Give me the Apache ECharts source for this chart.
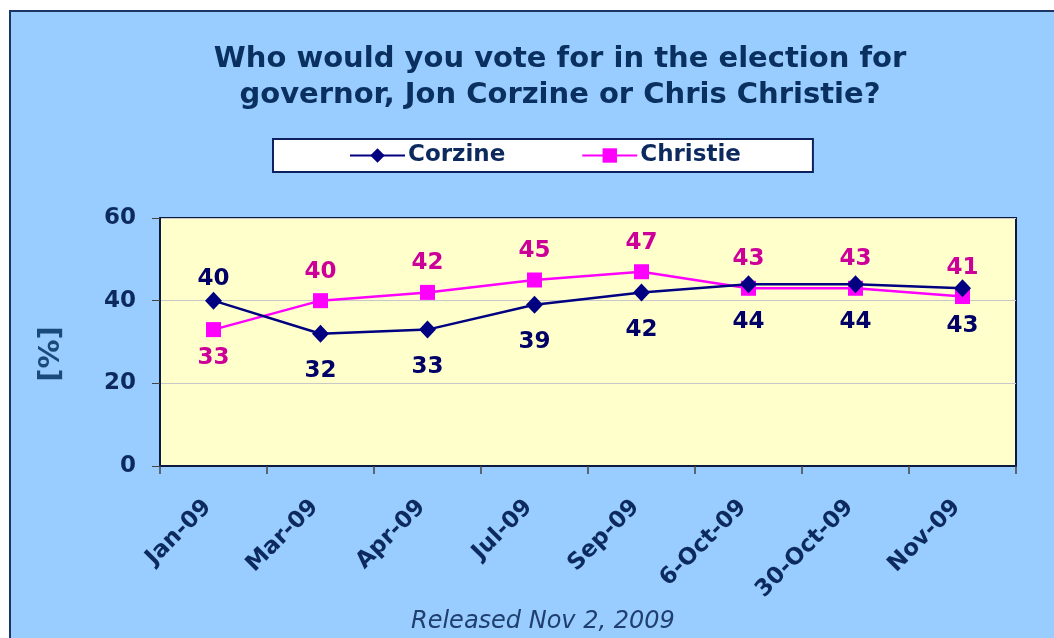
<!DOCTYPE html>
<html><head><meta charset="utf-8">
<script src="https://cdn.jsdelivr.net/npm/echarts@6/dist/echarts.min.js"></script>
<style>html,body{margin:0;padding:0;background:#fff}#c{width:1054px;height:638px}</style>
</head><body><div id="c"></div>
<script>
const categories = ['Jan-09','Mar-09','Apr-09','Jul-09','Sep-09','6-Oct-09','30-Oct-09','Nov-09'];
const corzine = [40,32,33,39,42,44,44,43];
const christie = [33,40,42,45,47,43,43,41];
const yTicks = [0,20,40,60];

const chart = echarts.init(document.getElementById('c'));
const F = 'DejaVu Sans, Verdana, sans-serif';
const dl = (color, pos, dist) => ({show:true,fontFamily:F,fontSize:23,fontWeight:'bold',color:color,distance:dist,position:pos});
chart.setOption({
  backgroundColor:'#ffffff',
  animation:false,
  graphic:[
    {type:'rect',z:-10,silent:true,shape:{x:10,y:11,width:1060,height:640},
      style:{fill:'#99ccff',stroke:'#1a3566',lineWidth:2}},
    {type:'text',left:411,top:610,style:{text:'Released Nov 2, 2009',
      font:'italic 24px '+F,fill:'#1f3f6f'}},
    {type:'text',x:51,y:354,rotation:Math.PI/2,style:{text:'[%]',align:'center',verticalAlign:'middle',
      font:'bold 29px '+F,fill:'#1a4a7a'}}
  ],
  title:{text:'Who would you vote for in the election for\ngovernor, Jon Corzine or Chris Christie?',
    left:555,textAlign:'center',top:36,
    textStyle:{fontFamily:F,fontSize:29,fontWeight:'bold',color:'#0a3060',lineHeight:36}},
  legend:{left:273,top:139,backgroundColor:'#ffffff',borderColor:'#0d2060',borderWidth:2,borderRadius:0,
    padding:[5,72,5,76],itemGap:76,itemWidth:55,itemHeight:18,
    textStyle:{fontFamily:F,fontSize:23,fontWeight:'bold',color:'#0d2a5e',padding:[0,0,0,-2]},
    data:['Corzine','Christie']},
  grid:{left:160,right:38,top:218,bottom:172,show:true,backgroundColor:'#ffffcc',borderColor:'#0d1a40',borderWidth:2},
  xAxis:{type:'category',data:categories,boundaryGap:true,
    axisLine:{lineStyle:{color:'#0d1a40',width:2}},
    axisTick:{show:true,length:8,lineStyle:{color:'#444',width:1.5}},
    axisLabel:{rotate:45,margin:32,padding:[0,8,0,0],fontFamily:F,fontSize:23,fontWeight:'bold',color:'#0d2a5e'}},
  yAxis:{type:'value',min:0,max:60,interval:20,
    axisLine:{show:true,lineStyle:{color:'#0d1a40',width:2}},
    axisTick:{show:true,length:8,lineStyle:{color:'#444'}},
    splitLine:{show:true,lineStyle:{color:'#c8c8c8',width:1}},
    axisLabel:{margin:24,fontFamily:F,fontSize:23,fontWeight:'bold',color:'#0d2a5e',
      formatter:v=>yTicks.includes(v)?String(v):''}},
  series:[
    {name:'Christie',type:'line',symbol:'rect',symbolSize:15,z:2,
      data:christie.map((v,i)=>({value:v,label:i===0?dl('#cc0099','bottom',9):dl('#cc0099','top',10)})),
      itemStyle:{color:'#ff00ff'},lineStyle:{color:'#ff00ff',width:2.5}},
    {name:'Corzine',type:'line',symbol:'diamond',symbolSize:[17,18],z:3,
      data:corzine.map((v,i)=>({value:v,label:i===0?dl('#000066','top',1):dl('#000066','bottom',17)})),
      itemStyle:{color:'#000080'},lineStyle:{color:'#000080',width:2.5}}
  ]
});
</script></body></html>
